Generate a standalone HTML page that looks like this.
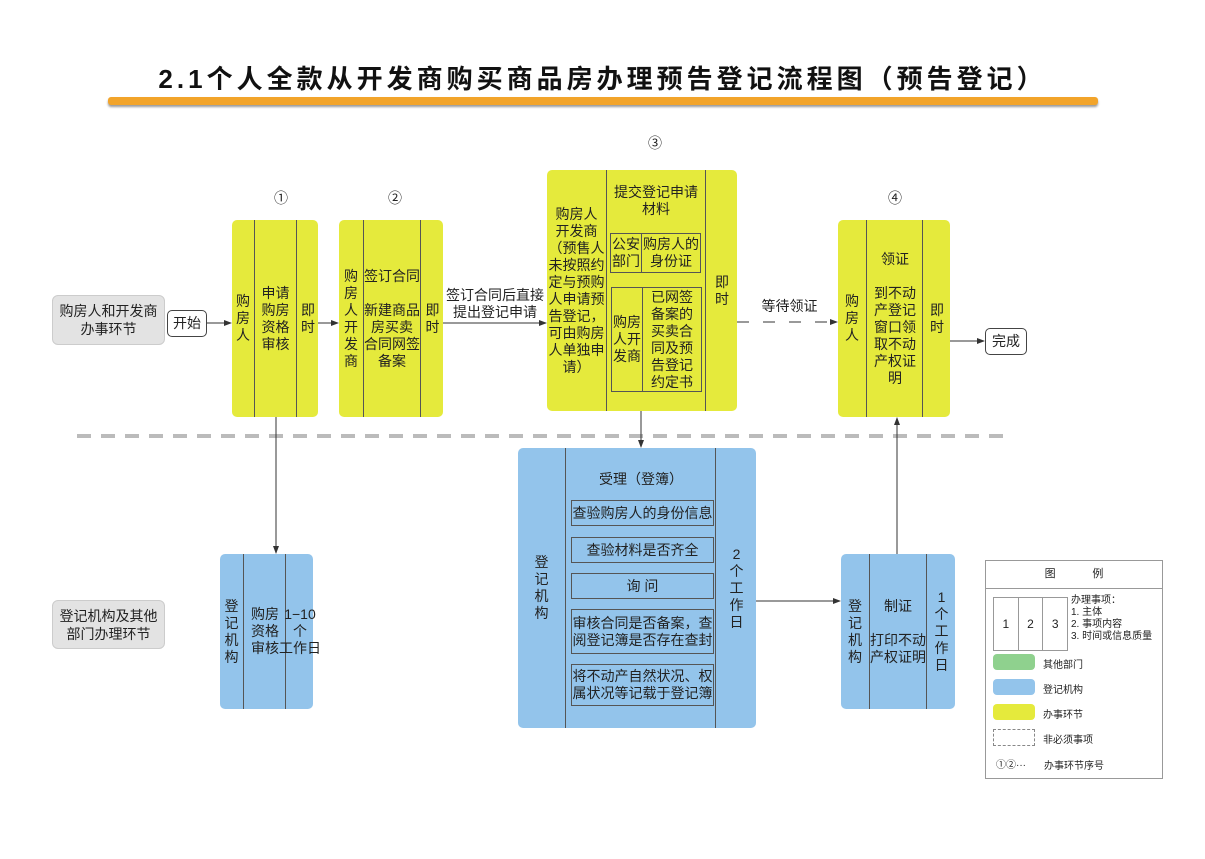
<!DOCTYPE html>
<html><head><meta charset="utf-8">
<style>
body{margin:0;width:1205px;height:859px;background:#fff;position:relative;overflow:hidden;font-family:"Liberation Sans","Noto Sans CJK SC",sans-serif;color:#222}
.a{position:absolute}
.y{background:#e5ea3c;border-radius:5px}
.b{background:#93c4eb;border-radius:5px}
.c{position:absolute;top:0;bottom:0;display:flex;align-items:center;justify-content:center;text-align:center;font-size:14px;line-height:17px;white-space:nowrap}
.bl{border-left:1px solid #555}
.g{background:#e3e3e3;border-radius:6px;border:1px solid #ccc;display:flex;align-items:center;justify-content:center;text-align:center;font-size:14px;line-height:18px}
.in{position:absolute;border:1px solid #555;display:flex;align-items:center;justify-content:center;text-align:center;font-size:14px;line-height:17px;white-space:nowrap}
.t{position:absolute;font-size:14px;line-height:17px;text-align:center;white-space:nowrap}
</style></head><body>
<div class="a" style="left:0;width:1205px;top:59px;text-align:center;font-size:26px;font-weight:bold;letter-spacing:4px;color:#111">2.1个人全款从开发商购买商品房办理预告登记流程图（预告登记）</div>
<div class="a" style="left:108px;top:97px;width:990px;height:8px;background:#f2a42a;border-radius:3px;box-shadow:0 2px 2px #999"></div>

<svg class="a" style="left:0;top:0" width="1205" height="859">
<defs><marker id="m" markerWidth="8" markerHeight="8" refX="7" refY="4" orient="auto"><path d="M0,1 L8,4 L0,7 z" fill="#333"/></marker></defs>
<line x1="77" y1="436" x2="1010" y2="436" stroke="#bbb" stroke-width="4" stroke-dasharray="14,10"/>
<g stroke="#333" stroke-width="1" fill="none">
<line x1="206" y1="323" x2="231" y2="323" marker-end="url(#m)"/>
<line x1="318" y1="323" x2="338" y2="323" marker-end="url(#m)"/>
<line x1="443" y1="323" x2="546" y2="323" marker-end="url(#m)"/>
<line x1="737" y1="322" x2="837" y2="322" stroke-dasharray="12,14" marker-end="url(#m)"/>
<line x1="950" y1="341" x2="984" y2="341" marker-end="url(#m)"/>
<line x1="276" y1="417" x2="276" y2="553" marker-end="url(#m)"/>
<line x1="641" y1="411" x2="641" y2="447" marker-end="url(#m)"/>
<line x1="756" y1="601" x2="840" y2="601" marker-end="url(#m)"/>
<line x1="897" y1="554" x2="897" y2="418" marker-end="url(#m)"/>
</g>
</svg>

<div class="a g" style="left:52px;top:295px;width:111px;height:48px">购房人和开发商<br>办事环节</div>
<div class="a g" style="left:52px;top:600px;width:111px;height:47px">登记机构及其他<br>部门办理环节</div>
<div class="a" style="left:167px;top:310px;width:38px;height:25px;border:1px solid #444;border-radius:5px;font-size:14px;line-height:25px;text-align:center;background:#fff">开始</div>
<div class="a" style="left:985px;top:328px;width:40px;height:25px;border:1px solid #444;border-radius:5px;font-size:14px;line-height:25px;text-align:center;background:#fff">完成</div>

<div class="t" style="left:265px;top:190px;width:32px">①</div>
<div class="t" style="left:379px;top:190px;width:32px">②</div>
<div class="t" style="left:639px;top:135px;width:32px">③</div>
<div class="t" style="left:879px;top:190px;width:32px">④</div>
<div class="t" style="left:440px;top:287px;width:110px">签订合同后直接<br>提出登记申请</div>
<div class="t" style="left:752px;top:298px;width:75px">等待领证</div>

<div class="a y" style="left:232px;top:220px;width:86px;height:197px">
<div class="c" style="left:0;width:22px">购<br>房<br>人</div>
<div class="c bl" style="left:22px;width:41px">申请<br>购房<br>资格<br>审核</div>
<div class="c bl" style="left:64px;width:22px">即<br>时</div></div>
<div class="a y" style="left:339px;top:220px;width:104px;height:197px">
<div class="c" style="left:0;width:24px">购<br>房<br>人<br>开<br>发<br>商</div>
<div class="c bl" style="left:24px;width:56px">签订合同<br><br>新建商品<br>房买卖<br>合同网签<br>备案</div>
<div class="c bl" style="left:81px;width:23px">即<br>时</div></div>
<div class="a y" style="left:547px;top:170px;width:190px;height:241px">
<div class="c" style="left:0;width:59px">购房人<br>开发商<br>（预售人<br>未按照约<br>定与预购<br>人申请预<br>告登记，<br>可由购房<br>人单独申<br>请）</div>
<div class="c bl" style="left:59px;width:99px"></div>
<div class="t" style="left:60px;top:14px;width:98px">提交登记申请<br>材料</div>
<div class="in" style="left:63px;top:63px;width:30px;height:38px">公安<br>部门</div>
<div class="in" style="left:94px;top:63px;width:58px;height:38px">购房人的<br>身份证</div>
<div class="in" style="left:64px;top:117px;width:30px;height:103px">购房<br>人开<br>发商</div>
<div class="in" style="left:95px;top:117px;width:58px;height:103px">已网签<br>备案的<br>买卖合<br>同及预<br>告登记<br>约定书</div>
<div class="c bl" style="left:158px;width:32px">即<br>时</div></div>
<div class="a y" style="left:838px;top:220px;width:112px;height:197px">
<div class="c" style="left:0;width:28px">购<br>房<br>人</div>
<div class="c bl" style="left:28px;width:56px">领证<br><br>到不动<br>产登记<br>窗口领<br>取不动<br>产权证<br>明</div>
<div class="c bl" style="left:84px;width:28px">即<br>时</div></div>

<div class="a b" style="left:220px;top:554px;width:93px;height:155px">
<div class="c" style="left:0;width:23px">登<br>记<br>机<br>构</div>
<div class="c bl" style="left:23px;width:42px">购房<br>资格<br>审核</div>
<div class="c bl" style="left:65px;width:28px">1−10<br>个<br>工作日</div></div>
<div class="a b" style="left:518px;top:448px;width:238px;height:280px">
<div class="c" style="left:0;width:47px">登<br>记<br>机<br>构</div>
<div class="c bl" style="left:47px;width:150px"></div>
<div class="t" style="left:48px;top:23px;width:150px">受理（登簿）</div>
<div class="in" style="left:53px;top:52px;width:141px;height:24px">查验购房人的身份信息</div>
<div class="in" style="left:53px;top:89px;width:141px;height:24px">查验材料是否齐全</div>
<div class="in" style="left:53px;top:125px;width:141px;height:24px">询 问</div>
<div class="in" style="left:53px;top:161px;width:141px;height:43px">审核合同是否备案，查<br>阅登记簿是否存在查封</div>
<div class="in" style="left:53px;top:216px;width:141px;height:40px">将不动产自然状况、权<br>属状况等记载于登记簿</div>
<div class="c bl" style="left:197px;width:41px">2<br>个<br>工<br>作<br>日</div></div>
<div class="a b" style="left:841px;top:554px;width:114px;height:155px">
<div class="c" style="left:0;width:28px">登<br>记<br>机<br>构</div>
<div class="c bl" style="left:28px;width:56px">制证<br><br>打印不动<br>产权证明</div>
<div class="c bl" style="left:85px;width:29px">1<br>个<br>工<br>作<br>日</div></div>

<div class="a" style="left:985px;top:560px;width:176px;height:217px;border:1px solid #999;background:#fff;font-size:10px">
<div class="a" style="left:0;top:0;width:176px;height:27px;border-bottom:1px solid #999;font-size:11px;line-height:27px;text-align:center">图&nbsp;&nbsp;&nbsp;&nbsp;&nbsp;&nbsp;&nbsp;&nbsp;&nbsp;&nbsp;&nbsp;&nbsp;例</div>
<div class="a" style="left:7px;top:36px;width:73px;height:52px;border:1px solid #999;display:flex;font-size:12px">
<div style="flex:1;display:flex;align-items:center;justify-content:center">1</div>
<div style="flex:1;display:flex;align-items:center;justify-content:center;border-left:1px solid #999">2</div>
<div style="flex:1;display:flex;align-items:center;justify-content:center;border-left:1px solid #999">3</div></div>
<div class="a" style="left:85px;top:34px;line-height:12px;font-size:10px">办理事项：<br>1. 主体<br>2. 事项内容<br>3. 时间或信息质量</div>
<div class="a" style="left:7px;top:93px;width:42px;height:16px;background:#8fd18e;border-radius:4px"></div>
<div class="a" style="left:57px;top:95px">其他部门</div>
<div class="a" style="left:7px;top:118px;width:42px;height:16px;background:#93c4eb;border-radius:4px"></div>
<div class="a" style="left:57px;top:120px">登记机构</div>
<div class="a" style="left:7px;top:143px;width:42px;height:16px;background:#e5ea3c;border-radius:4px"></div>
<div class="a" style="left:57px;top:145px">办事环节</div>
<div class="a" style="left:7px;top:168px;width:40px;height:15px;border:1px dashed #888"></div>
<div class="a" style="left:57px;top:170px">非必须事项</div>
<div class="a" style="left:10px;top:195px">①②···</div>
<div class="a" style="left:58px;top:196px">办事环节序号</div>
</div>
</body></html>
